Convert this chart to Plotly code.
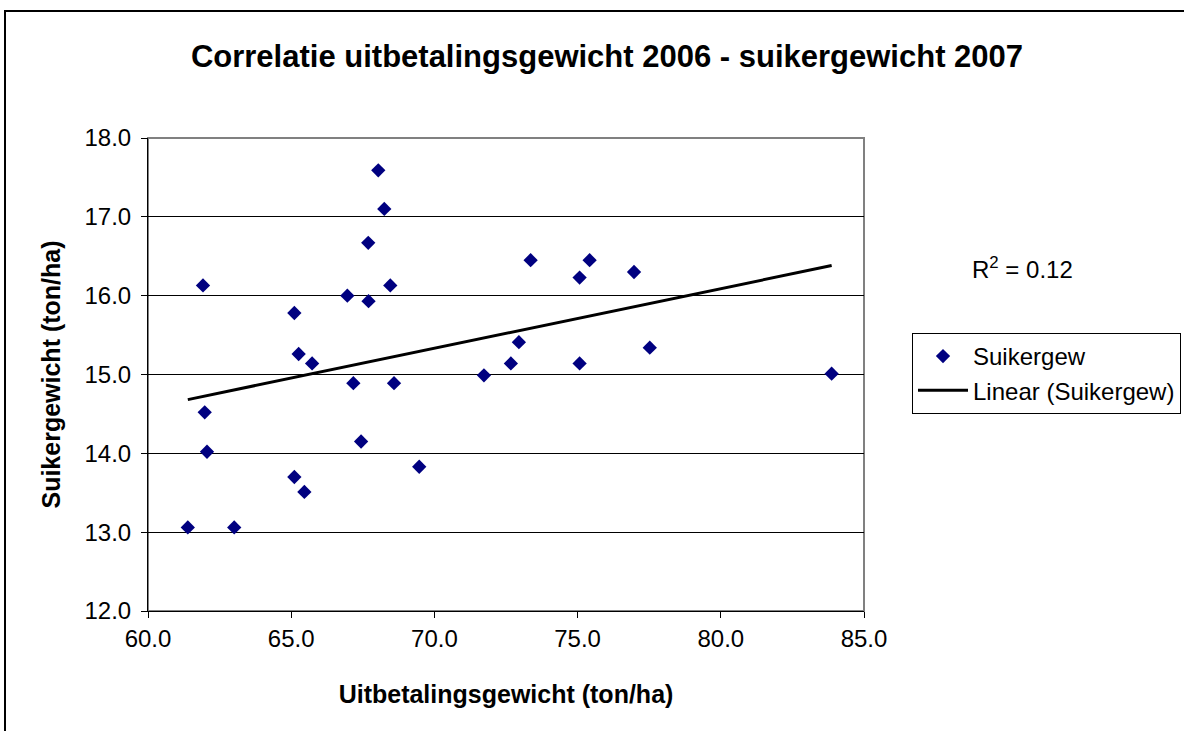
import numpy as np
import plotly.graph_objects as go

# Data
uitbetaling = [61.39, 61.92, 61.98, 62.06, 63.01, 65.11, 65.26, 65.73, 65.11, 65.46,
               66.96, 67.17, 67.44, 67.69, 67.70, 68.04, 68.25, 68.46, 68.59, 69.47,
               71.73, 72.67, 72.95, 73.36, 75.07, 75.07, 75.42, 76.97, 77.52, 83.87]
suiker = [13.06, 16.13, 14.52, 14.02, 13.06, 15.78, 15.26, 15.14, 13.70, 13.51,
          16.00, 14.89, 14.15, 16.67, 15.93, 17.59, 17.10, 16.13, 14.89, 13.83,
          14.99, 15.14, 15.41, 16.45, 16.23, 15.14, 16.45, 16.30, 15.34, 15.01]

x_ticks = [60.0, 65.0, 70.0, 75.0, 80.0, 85.0]
y_ticks = [12.0, 13.0, 14.0, 15.0, 16.0, 17.0, 18.0]

title_text = "Correlatie uitbetalingsgewicht 2006 - suikergewicht 2007"
x_title = "Uitbetalingsgewicht (ton/ha)"
y_title = "Suikergewicht (ton/ha)"

# Linear trend line (least squares)
xa = np.array(uitbetaling)
ya = np.array(suiker)
slope, intercept = np.polyfit(xa, ya, 1)
pred = slope * xa + intercept
r2 = 1 - np.sum((ya - pred) ** 2) / np.sum((ya - ya.mean()) ** 2)
x_line = [xa.min(), xa.max()]
y_line = [slope * v + intercept for v in x_line]

FONT = "Arial, 'Liberation Sans', sans-serif"

fig = go.Figure()
fig.add_trace(go.Scatter(
    x=uitbetaling, y=suiker, mode="markers", name="Suikergew",
    marker=dict(symbol="diamond", size=11, color="#000080",
                line=dict(width=0)),
))
fig.add_trace(go.Scatter(
    x=x_line, y=y_line, mode="lines", name="Linear (Suikergew)",
    line=dict(color="black", width=3),
))

W, H = 1184, 731
L, R, T, B = 148, 864, 138, 611
pw, ph = R - L, B - T

def px_x(p):
    return (p - L) / pw

def px_y(p):
    return 1 - (p - T) / ph

fig.update_layout(
    width=W, height=H,
    margin=dict(l=L, r=W - R, t=T, b=H - B, pad=0, autoexpand=False),
    paper_bgcolor="white", plot_bgcolor="white",
    font=dict(family=FONT, size=24, color="black"),
    title=dict(text=title_text, x=607 / W, xanchor="center",
               y=1 - 56 / H, yanchor="middle", yref="container",
               font=dict(family=FONT, size=31, color="black", weight="bold")),
    showlegend=True,
    legend=dict(x=px_x(912), y=px_y(333), xanchor="left", yanchor="top",
                bordercolor="black", borderwidth=1, bgcolor="white",
                font=dict(family=FONT, size=24, color="black"),
                itemwidth=50, tracegroupgap=0),
    xaxis=dict(range=[60, 85], tickvals=x_ticks, tickformat=".1f",
               showgrid=False, zeroline=False, automargin=False,
               showline=True, linecolor="black", linewidth=1, mirror=False,
               ticks="outside", ticklen=6, tickcolor="black",
               tickfont=dict(family=FONT, size=24, color="black"),
               title=dict(text=x_title, standoff=34,
                          font=dict(family=FONT, size=25, color="black", weight="bold"))),
    yaxis=dict(range=[12, 18], tickvals=y_ticks, tickformat=".1f",
               showgrid=True, gridcolor="black", gridwidth=1, zeroline=False,
               automargin=False,
               showline=True, linecolor="black", linewidth=1, mirror=False,
               ticks="outside", ticklen=6, tickcolor="black",
               ticklabelstandoff=5,
               tickfont=dict(family=FONT, size=24, color="black"),
               title=dict(text=y_title, standoff=16,
                          font=dict(family=FONT, size=25, color="black", weight="bold"))),
)

# Gray plot-area frame (top and right)
fig.add_shape(type="rect", xref="paper", yref="paper", x0=0, y0=0, x1=1, y1=1,
              line=dict(color="#808080", width=2), layer="below")
# Outer chart frame (extends beyond the visible window on right and bottom)
fig.add_shape(type="rect", xref="paper", yref="paper",
              x0=px_x(5), y0=px_y(800), x1=px_x(1260), y1=px_y(11),
              line=dict(color="black", width=2))

fig.add_annotation(xref="paper", yref="paper", x=px_x(1022), y=px_y(268),
                   text=f"R<sup>2</sup> = {r2:.2f}", showarrow=False,
                   xanchor="center", yanchor="middle",
                   font=dict(family=FONT, size=24, color="black"))

fig.write_html("out.html", config={"displayModeBar": False},
               post_script="document.body.style.margin='0';")
